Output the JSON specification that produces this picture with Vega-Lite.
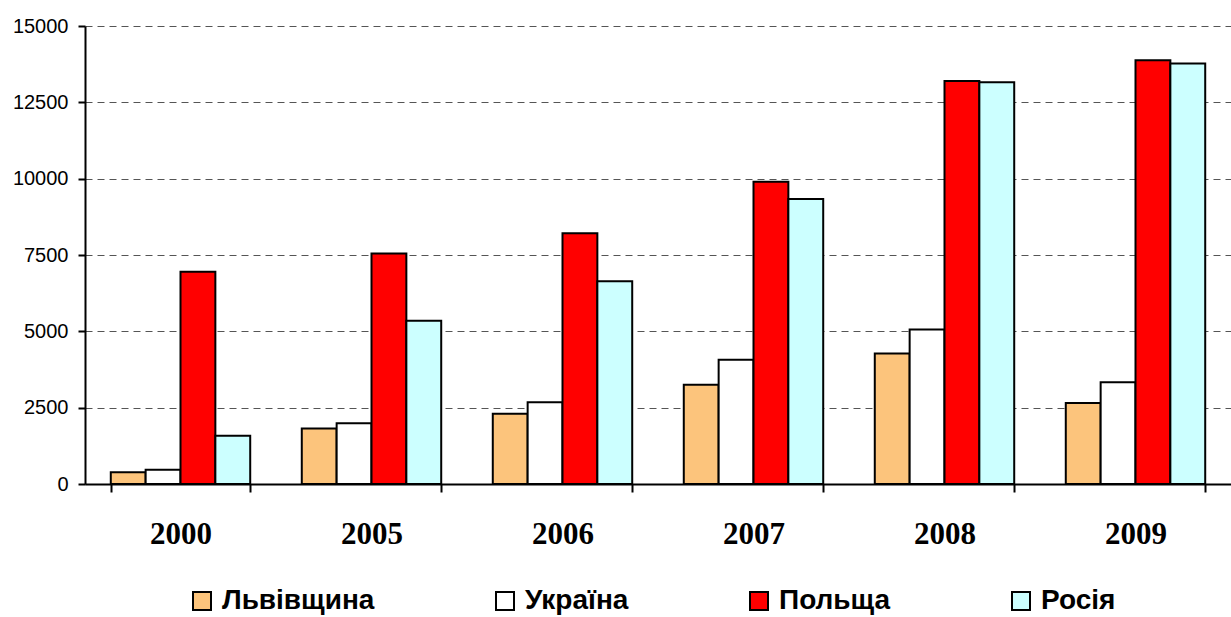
{
  "$schema": "https://vega.github.io/schema/vega-lite/v6.json",
  "width": 1146,
  "height": 458,
  "autosize": {"type": "none"},
  "padding": {"left": 85, "top": 26, "right": 0, "bottom": 133},
  "background": "white",
  "config": {"view": {"stroke": null}},
  "data": {
    "values": [
      {"year": "2000", "region": "Львівщина", "value": 385},
      {"year": "2000", "region": "Україна", "value": 470},
      {"year": "2000", "region": "Польща", "value": 6950},
      {"year": "2000", "region": "Росія", "value": 1580},
      {"year": "2005", "region": "Львівщина", "value": 1820},
      {"year": "2005", "region": "Україна", "value": 1990},
      {"year": "2005", "region": "Польща", "value": 7550},
      {"year": "2005", "region": "Росія", "value": 5350},
      {"year": "2006", "region": "Львівщина", "value": 2300},
      {"year": "2006", "region": "Україна", "value": 2680},
      {"year": "2006", "region": "Польща", "value": 8210},
      {"year": "2006", "region": "Росія", "value": 6640},
      {"year": "2007", "region": "Львівщина", "value": 3250},
      {"year": "2007", "region": "Україна", "value": 4070},
      {"year": "2007", "region": "Польща", "value": 9900},
      {"year": "2007", "region": "Росія", "value": 9330},
      {"year": "2008", "region": "Львівщина", "value": 4270},
      {"year": "2008", "region": "Україна", "value": 5060},
      {"year": "2008", "region": "Польща", "value": 13200},
      {"year": "2008", "region": "Росія", "value": 13160},
      {"year": "2009", "region": "Львівщина", "value": 2650},
      {"year": "2009", "region": "Україна", "value": 3330},
      {"year": "2009", "region": "Польща", "value": 13880},
      {"year": "2009", "region": "Росія", "value": 13770}
    ]
  },
  "mark": {"type": "bar", "stroke": "black", "strokeWidth": 2, "opacity": 1},
  "encoding": {
    "x": {
      "field": "year",
      "type": "nominal",
      "scale": {"paddingInner": 0.27, "paddingOuter": 0.135},
      "axis": {
        "title": null,
        "labelAngle": 0,
        "labelFont": "Liberation Serif",
        "labelFontWeight": "bold",
        "labelFontSize": 31,
        "labelColor": "black",
        "labelBaseline": "alphabetic",
        "labelPadding": 51,
        "tickBand": "extent",
        "tickSize": 8,
        "tickWidth": 2,
        "tickColor": "black",
        "domainColor": "black",
        "domainWidth": 2,
        "grid": false
      }
    },
    "xOffset": {
      "field": "region",
      "type": "nominal",
      "sort": ["Львівщина", "Україна", "Польща", "Росія"],
      "scale": {"paddingInner": 0, "paddingOuter": 0}
    },
    "y": {
      "field": "value",
      "type": "quantitative",
      "scale": {"domain": [0, 15000], "nice": false},
      "axis": {
        "title": null,
        "values": [0, 2500, 5000, 7500, 10000, 12500, 15000],
        "format": "d",
        "labelFont": "Liberation Sans",
        "labelFontSize": 20,
        "labelColor": "black",
        "labelPadding": 10,
        "tickSize": 7,
        "tickWidth": 2,
        "tickColor": "black",
        "domainColor": "black",
        "domainWidth": 2,
        "grid": true,
        "gridColor": "#555555",
        "gridWidth": 1,
        "gridDash": [7, 5]
      }
    },
    "color": {
      "field": "region",
      "type": "nominal",
      "sort": ["Львівщина", "Україна", "Польща", "Росія"],
      "scale": {
        "domain": ["Львівщина", "Україна", "Польща", "Росія"],
        "range": ["#FCC47C", "#FFFFFF", "#FF0000", "#CCFFFF"]
      },
      "legend": {
        "title": null,
        "orient": "none",
        "legendX": 103,
        "legendY": 561,
        "direction": "horizontal",
        "padding": 0,
        "symbolType": "square",
        "symbolSize": 324,
        "symbolStrokeColor": "black",
        "symbolStrokeWidth": 2,
        "symbolOpacity": 1,
        "labelFont": "Liberation Sans",
        "labelFontWeight": "bold",
        "labelFontSize": 28,
        "labelColor": "black",
        "labelOffset": 6,
        "labelLimit": 400,
        "columnPadding": 116
      }
    }
  }
}
